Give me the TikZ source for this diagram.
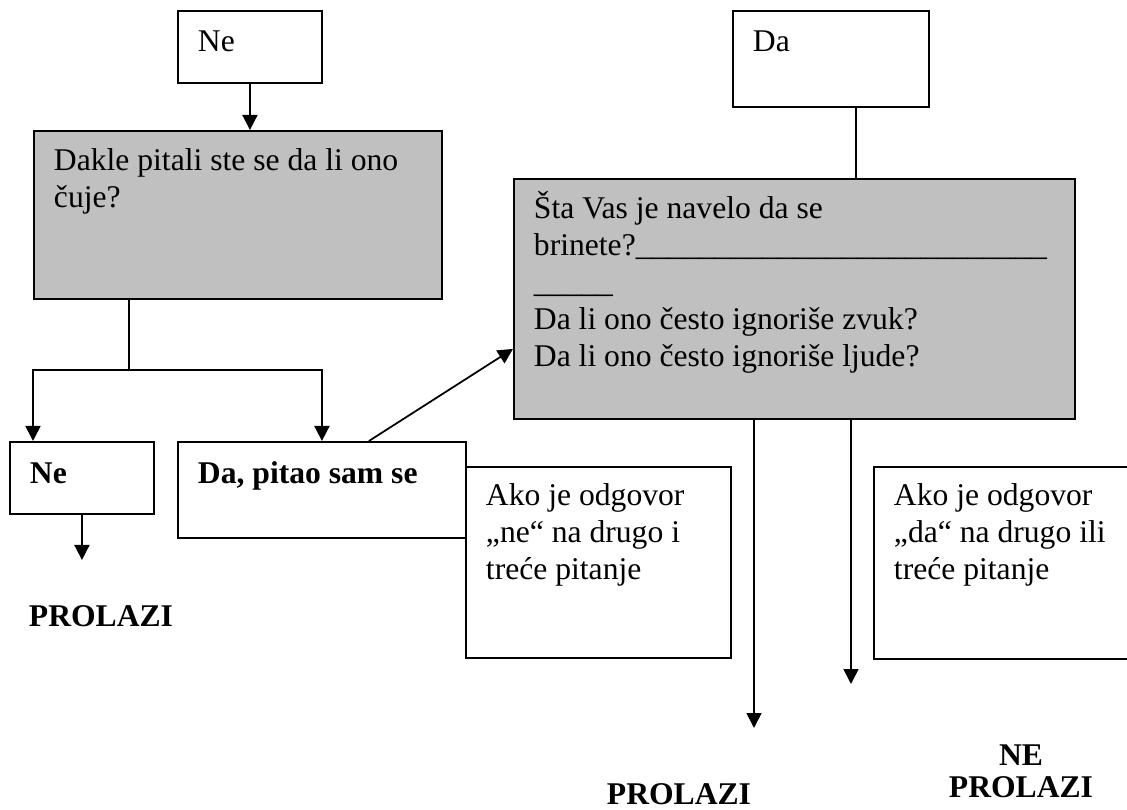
\documentclass[tikz,border=0pt]{standalone}
\usepackage{fontspec}
\setmainfont{Liberation Serif}
\usetikzlibrary{arrows.meta}
\definecolor{boxgray}{RGB}{192,192,192}
\tikzset{
	box/.style = {draw, line width=1.1pt, anchor=north west, align=flush left, inner xsep=0.4cm, inner ysep=0pt},
	askbox/.style = {box, fill=boxgray},
	arr/.style = {line width=1pt, -{Triangle[width=0.3cm, length=0.3cm]}},
	line/.style = {line width=1pt},
	res/.style = {inner sep=0pt, font=\fontsize{18}{21}\selectfont\bfseries}
}
\begin{document}
\begin{tikzpicture}[x=0.02cm, y=-0.02cm, font=\fontsize{18}{21}\selectfont]
	\useasboundingbox (0,0) rectangle (1127,810);

	\node[box, text width=2.08cm, text height=0.82cm, text depth=0.62cm] (ne1) at (177,10) {Ne};
	\node[box, text width=3.12cm, text height=0.82cm, text depth=1.10cm] (da1) at (732,10) {Da};
	\node[askbox, text width=7.36cm, text height=0.80cm, text depth=2.56cm] (q1) at (33,130)
		{Dakle pitali ste se da li ono\\ čuje?};
	\node[askbox, text width=10.42cm, text height=0.80cm, text depth=4.00cm] (q2) at (513,178)
		{Šta Vas je navelo da se\\
		brinete?\_\_\_\_\_\_\_\_\_\_\_\_\_\_\_\_\_\_\_\_\_\_\_\_\_\_\\
		\_\_\_\_\_\\
		Da li ono često ignoriše zvuk?\\
		Da li ono često ignoriše ljude?};
	\node[box, text width=2.08cm, text height=0.84cm, text depth=0.60cm] (no) at (9,441) {\textbf{Ne}};
	\node[box, text width=4.96cm, text height=0.84cm, text depth=1.08cm] (yes) at (177,441) {\textbf{Da, pitao sam se}};
	\node[box, text width=4.50cm, text height=0.78cm, text depth=3.04cm] (ifno) at (465,466)
		{Ako je odgovor\\ „ne“ na drugo i\\ treće pitanje};
	\node[box, text width=4.54cm, text height=0.78cm, text depth=3.06cm] (ifyes) at (873,466)
		{Ako je odgovor\\ „da“ na drugo ili\\ treće pitanje};

	\node[res] (pass1) at (101,616) {PROLAZI};
	\node[res] (pass2) at (679,794) {PROLAZI};
	\node[res, align=center] (fail) at (1021,771) {NE\\[-3pt]PROLAZI};

	\coordinate (fork) at (129,370);
	\coordinate (noend) at (81,560);
	\coordinate (out1) at (754,728);
	\coordinate (out2) at (851,684);

	\draw[arr] (ne1.south) -- (ne1.south |- q1.north);
	\draw[line] (q1.south -| fork) -- (fork);
	\draw[arr] (fork) -| (q1.south west |- no.north);
	\draw[arr] (fork) -| (yes.north);
	\draw[arr] (no.south) -- (no.south |- noend);
	\draw[arr] ([xshift=0.94cm]yes.north) -- ([yshift=1.42cm]q2.south west);
	\draw[line] ([xshift=0.5cm]da1.south) -- ([xshift=0.5cm]da1.south |- q2.north);
	\draw[arr] (q2.south -| out1) -- (out1);
	\draw[arr] (q2.south -| out2) -- (out2);
\end{tikzpicture}
\end{document}
